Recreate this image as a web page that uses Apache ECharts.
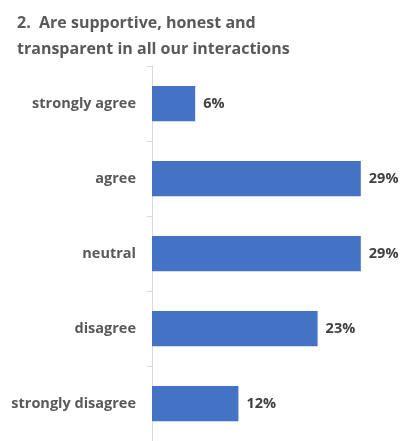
<!DOCTYPE html>
<html>
<head>
<meta charset="utf-8">
<script src="https://cdn.jsdelivr.net/npm/echarts@6/dist/echarts.min.js"></script>
<style>
  html, body { margin: 0; padding: 0; background: #fff; }
  #chart { width: 404px; height: 441px; }
</style>
</head>
<body>
<div id="chart"></div>
<script>
// Survey responses, top to bottom
const categories = ['strongly agree', 'agree', 'neutral', 'disagree', 'strongly disagree'];
const percentages = [6, 29, 29, 23, 12];

const chart = echarts.init(document.getElementById('chart'), null, { renderer: 'canvas' });

chart.setOption({
  backgroundColor: '#ffffff',
  animation: false,
  title: {
    text: '2.  Are supportive, honest and\ntransparent in all our interactions',
    left: 12,
    top: 5,
    textStyle: {
      fontFamily: 'Open Sans',
      fontWeight: 'bold',
      fontSize: 16,
      color: '#595959',
      lineHeight: 26
    }
  },
  grid: {
    left: 152,
    top: 66,
    width: 216,
    height: 380,
    containLabel: false
  },
  xAxis: {
    type: 'value',
    min: 0,
    max: 30,
    show: false
  },
  yAxis: {
    type: 'category',
    data: categories,
    inverse: true,
    axisLine: { show: true, lineStyle: { color: '#d9d9d9', width: 1 } },
    axisTick: { show: true, length: 5, lineStyle: { color: '#d9d9d9' } },
    axisLabel: {
      margin: 16,
      fontFamily: 'Open Sans',
      fontWeight: 'bold',
      fontSize: 14.5,
      color: '#595959'
    },
    splitLine: { show: false }
  },
  series: [{
    type: 'bar',
    data: percentages,
    barWidth: '47%',
    itemStyle: { color: '#4472c4' },
    label: {
      show: true,
      position: 'right',
      distance: 8,
      formatter: p => p.value + '%',
      fontFamily: 'Open Sans',
      fontWeight: 'bold',
      fontSize: 14.5,
      color: '#404040'
    }
  }]
});
</script>
</body>
</html>
